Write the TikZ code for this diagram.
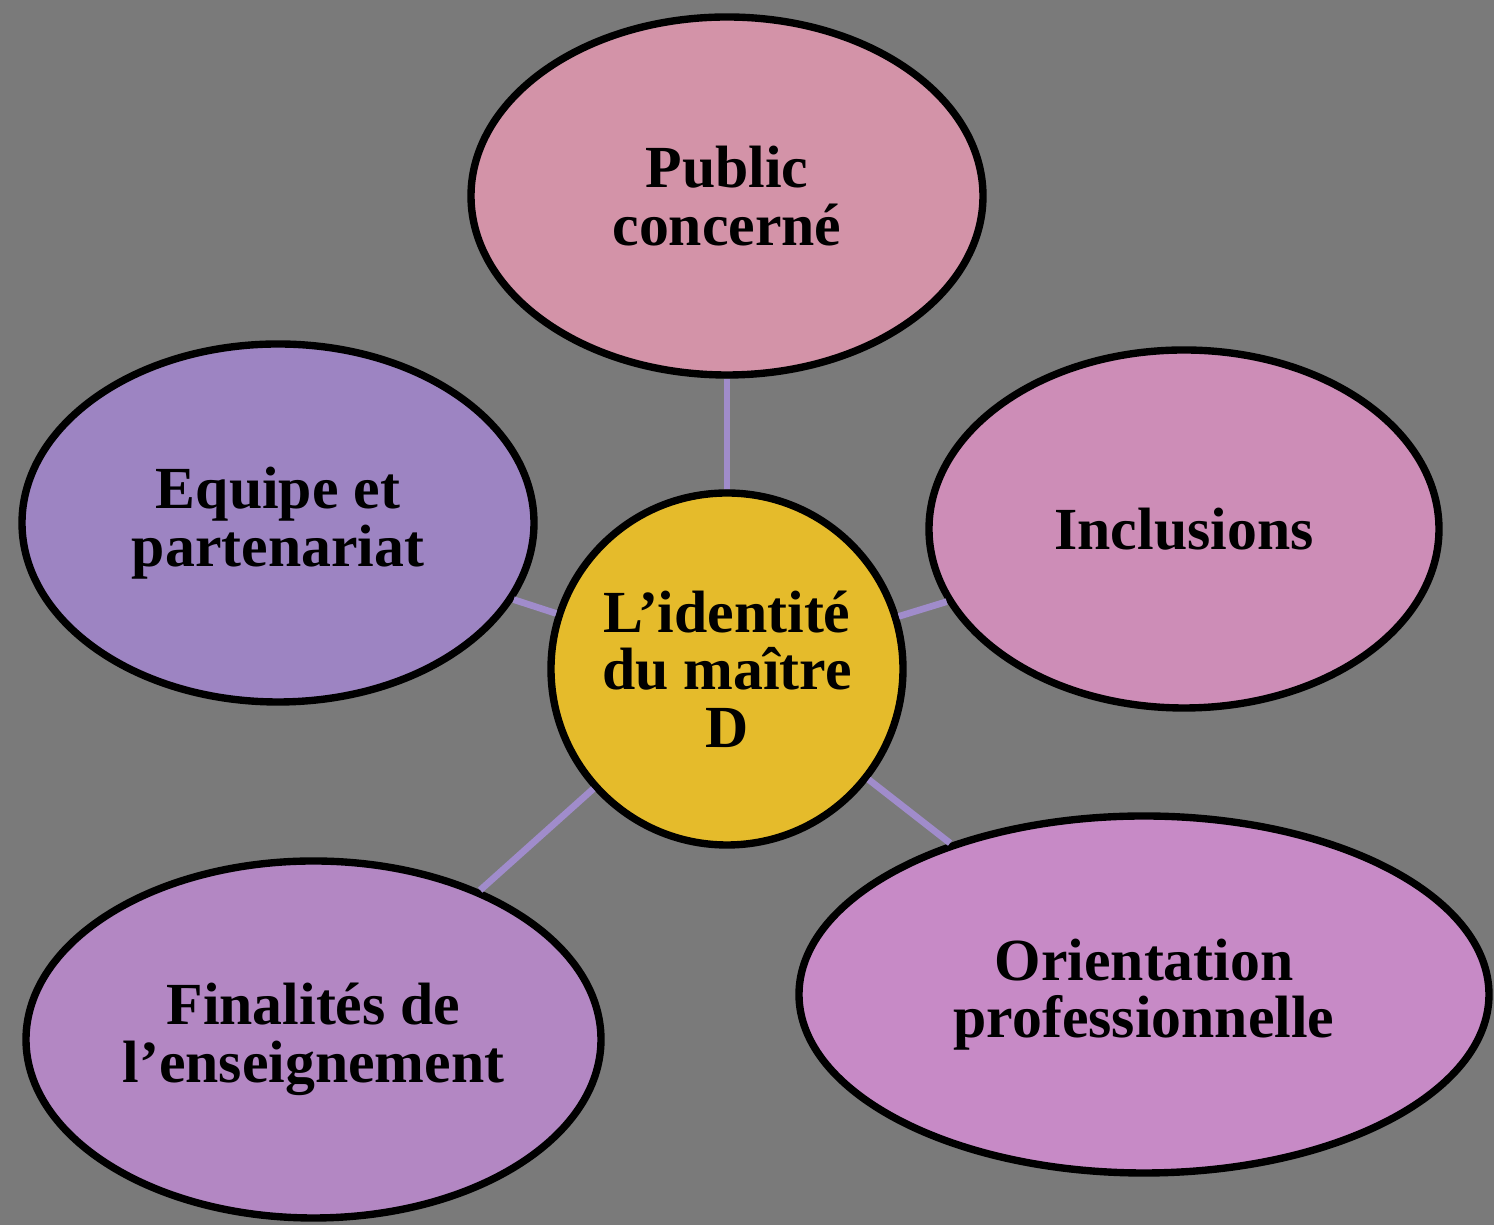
\documentclass[tikz,border=0pt]{standalone}
\usepackage{fontspec}
\setmainfont{Liberation Serif}
\usetikzlibrary{shapes.geometric}

\definecolor{fond}{HTML}{7A7A7A}
\definecolor{rosepub}{HTML}{D393A8}
\definecolor{violeq}{HTML}{9D84C2}
\definecolor{roseinc}{HTML}{CD8DB7}
\definecolor{jaune}{HTML}{E5BB2B}
\definecolor{violfin}{HTML}{B387C3}
\definecolor{violor}{HTML}{C78AC6}
\definecolor{lien}{HTML}{A08CCB}

\begin{document}
\begin{tikzpicture}[bulle/.style={ellipse,draw=black,line width=2.1pt,inner sep=0pt,align=center,
                        font=\fontsize{17}{16.4}\selectfont\bfseries},
                    lien/.style={draw=lien,line width=1.9pt}]
                \fill[fond] (0,0) rectangle (14.94,-12.25);
                \useasboundingbox (0,0) rectangle (14.94,-12.25);
                \node[bulle,fill=jaune,circle,minimum size=3.52cm] (centre) at (7.27,-6.69) {L’identité\\du maître\\D};
                \node[bulle,fill=rosepub,minimum width=5.12cm,minimum height=3.58cm] (public) at (7.27,-1.96) {Public\\concerné};
                \node[bulle,fill=violeq,minimum width=5.12cm,minimum height=3.58cm] (equipe) at (2.78,-5.23) {Equipe et\\partenariat};
                \node[bulle,fill=roseinc,minimum width=5.1cm,minimum height=3.58cm] (inclusions) at (11.84,-5.29) {Inclusions};
                \node[bulle,fill=violfin,minimum width=5.75cm,minimum height=3.57cm] (finalites) at (3.135,-10.395) {Finalités de\\l’enseignement};
                \node[bulle,fill=violor,minimum width=6.9cm,minimum height=3.57cm] (orientation) at (11.44,-9.945) {Orientation\\professionnelle};
                \foreach \n in {public,equipe,inclusions,finalites,orientation}
                    \draw[lien] (centre) -- (\n);
            \end{tikzpicture}
\end{document}
